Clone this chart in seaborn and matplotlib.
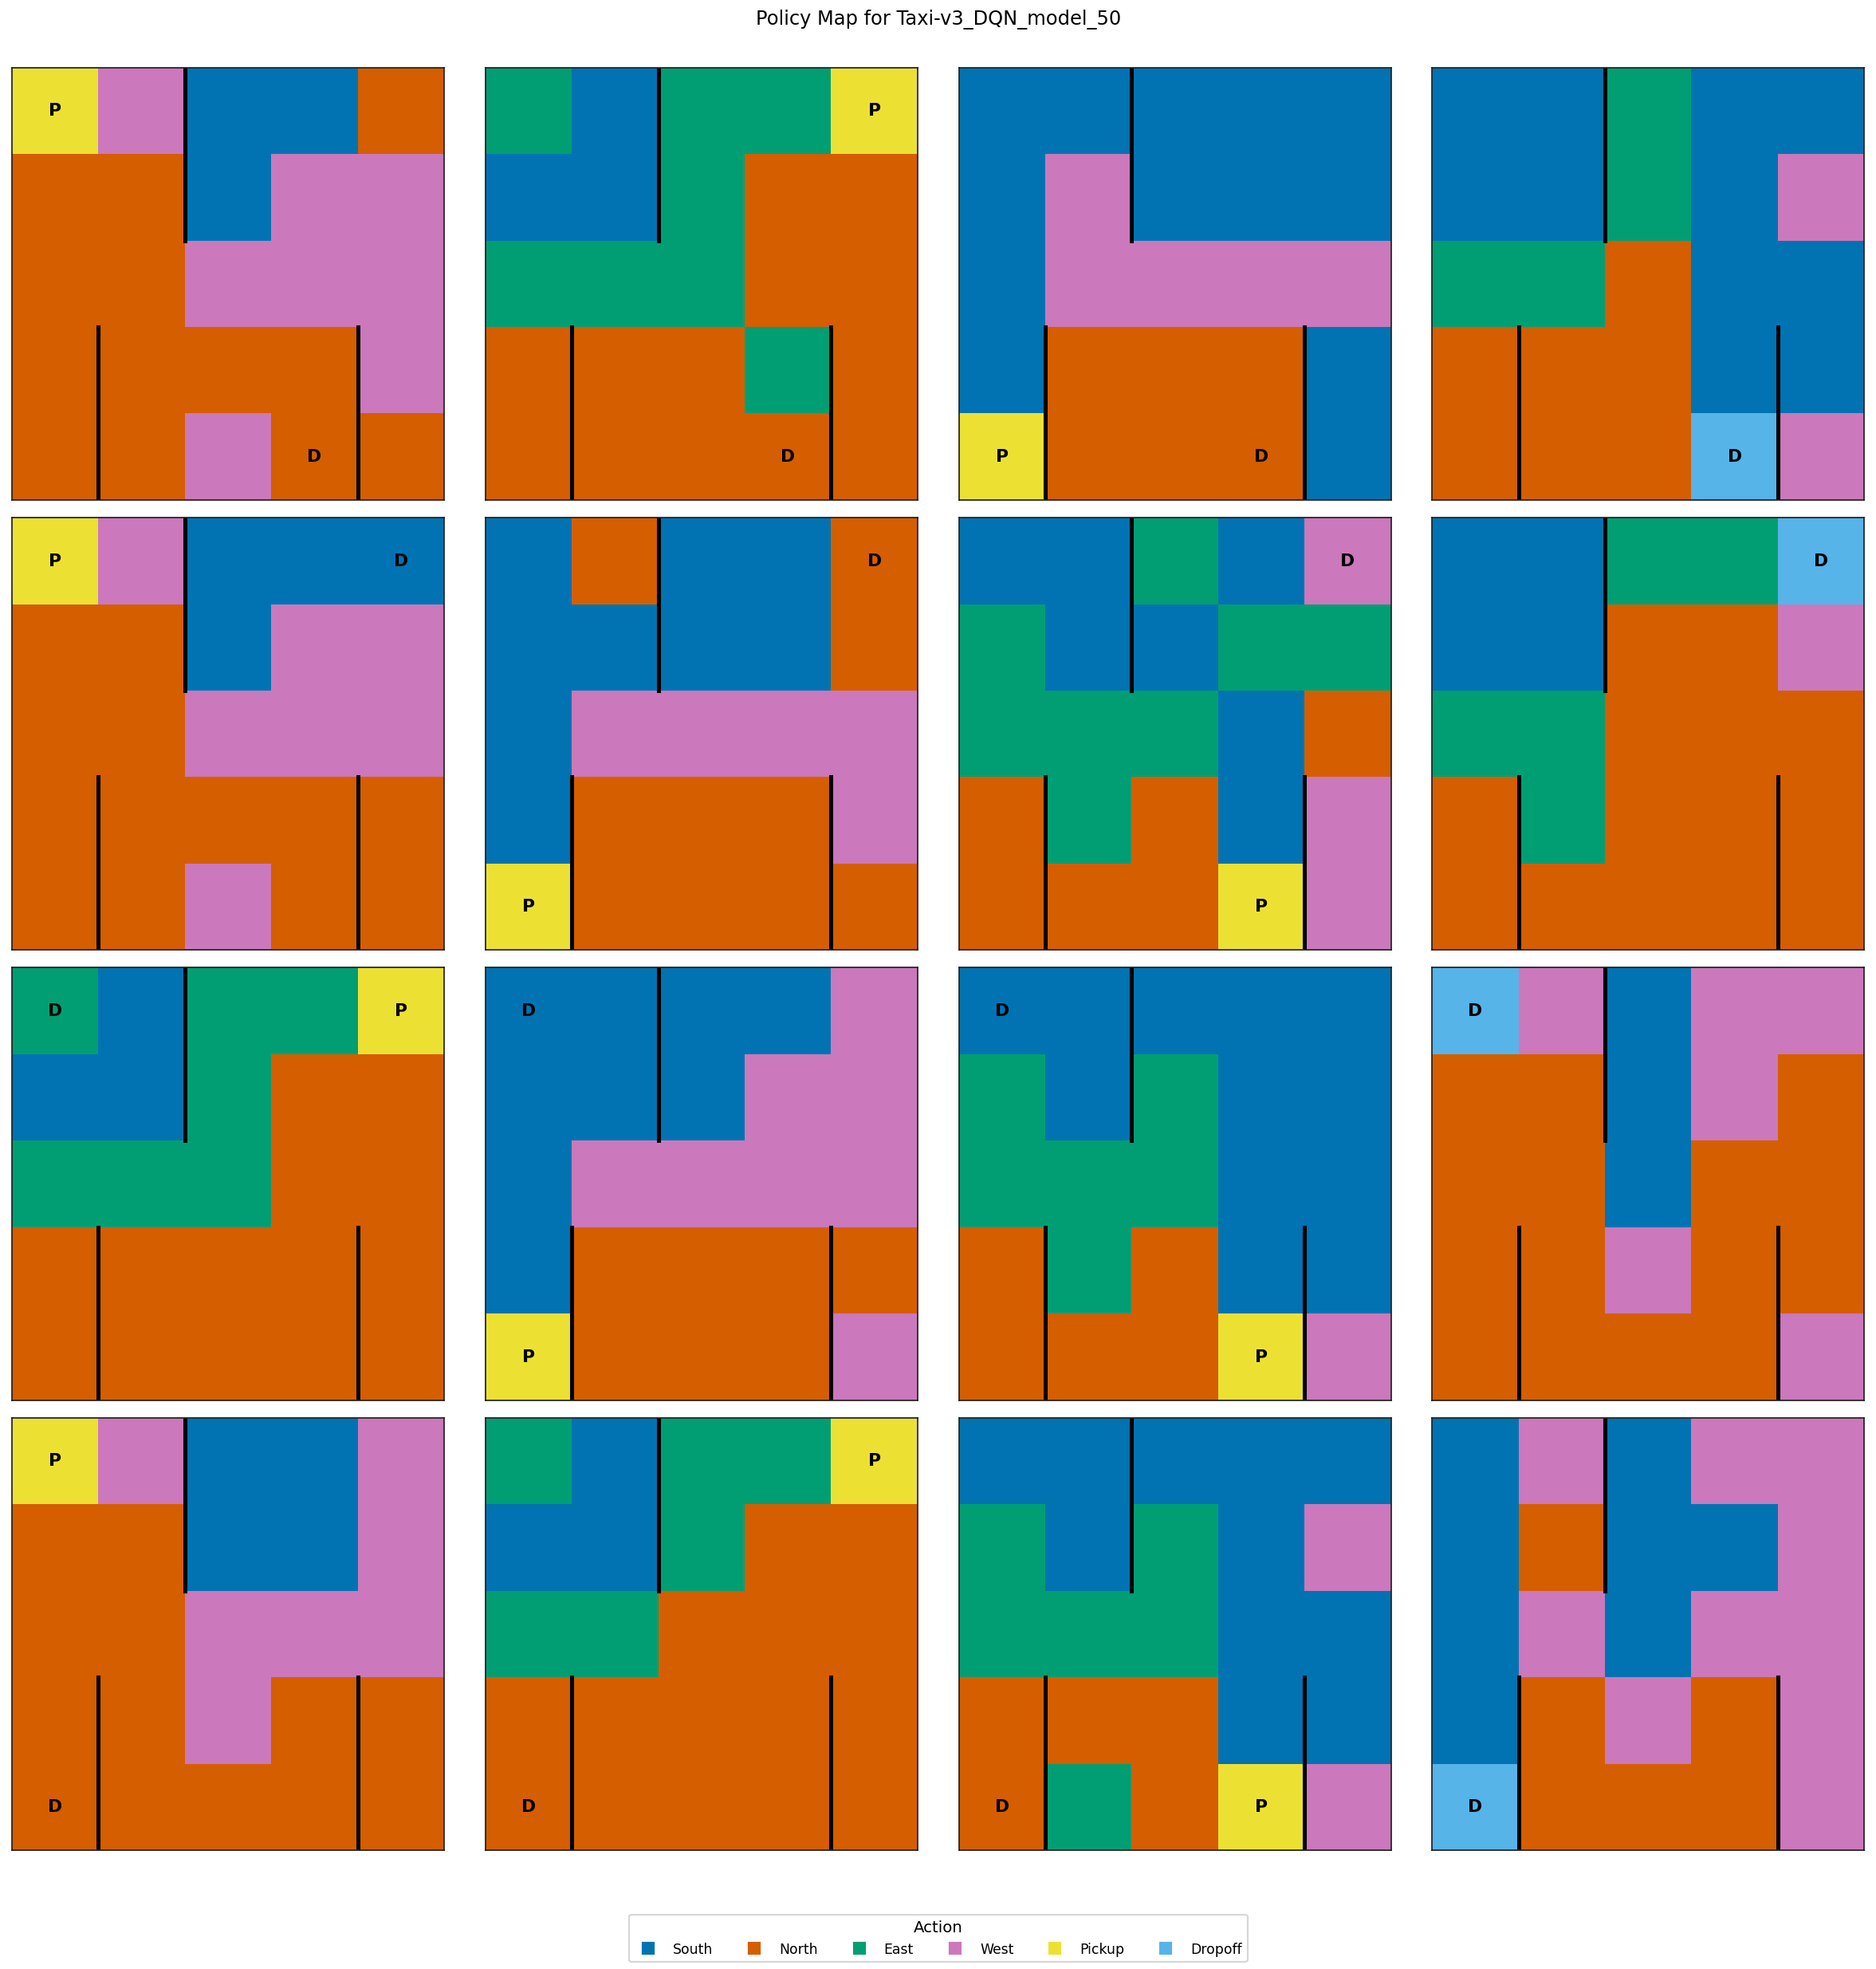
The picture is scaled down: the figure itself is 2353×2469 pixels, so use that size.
import numpy as np
import matplotlib
matplotlib.use("Agg")
import matplotlib.pyplot as plt
from matplotlib.colors import ListedColormap
from matplotlib.lines import Line2D
import seaborn as sns

# ---------------- data ----------------
actions = ["South", "North", "East", "West", "Pickup", "Dropoff"]
action_codes = {"S": 0, "N": 1, "E": 2, "W": 3, "P": 4, "D": 5}

# landmark cells (row, col): R, G, Y, B
landmarks = [(0, 0), (0, 4), (4, 0), (4, 3)]

# policies, row-major panels; each string = one grid row
policy_r_b = ["PWSSN", "NNSWW", "NNWWW", "NNNNW", "NNWNN"]
policy_g_b = ["ESEEP", "SSENN", "EEENN", "NNNEN", "NNNNN"]
policy_y_b = ["SSSSS", "SWSSS", "SWWWW", "SNNNS", "PNNNS"]
policy_t_b = ["SSESS", "SSESW", "EENSS", "NNNSS", "NNNDW"]
policy_r_g = ["PWSSS", "NNSWW", "NNWWW", "NNNNN", "NNWNN"]
policy_y_g = ["SNSSN", "SSSSN", "SWWWW", "SNNNW", "PNNNN"]
policy_b_g = ["SSESW", "ESSEE", "EEESN", "NENSW", "NNNPW"]
policy_t_g = ["SSEED", "SSNNW", "EENNN", "NENNN", "NNNNN"]
policy_g_r = ["ESEEP", "SSENN", "EEENN", "NNNNN", "NNNNN"]
policy_y_r = ["SSSSW", "SSSWW", "SWWWW", "SNNNN", "PNNNW"]
policy_b_r = ["SSSSS", "ESESS", "EEESS", "NENSS", "NNNPW"]
policy_t_r = ["DWSWW", "NNSWN", "NNSNN", "NNWNN", "NNNNW"]
policy_r_y = ["PWSSW", "NNSSW", "NNWWW", "NNWNN", "NNNNN"]
policy_g_y = ["ESEEP", "SSENN", "EENNN", "NNNNN", "NNNNN"]
policy_b_y = ["SSSSS", "ESESW", "EEESS", "NNNSS", "NENPW"]
policy_t_y = ["SWSWW", "SNSSW", "SWSWW", "SNWNW", "DNNNW"]

panel_policies = [policy_r_b, policy_g_b, policy_y_b, policy_t_b,
                  policy_r_g, policy_y_g, policy_b_g, policy_t_g,
                  policy_g_r, policy_y_r, policy_b_r, policy_t_r,
                  policy_r_y, policy_g_y, policy_b_y, policy_t_y]
# passenger location index (0-3 landmark, 4 = in taxi), destination index
passenger_locs = [0, 1, 2, 4, 0, 2, 3, 4, 1, 2, 3, 4, 0, 1, 3, 4]
destination_locs = [3, 3, 3, 3, 1, 1, 1, 1, 0, 0, 0, 0, 2, 2, 2, 2]

# walls: (x, y_start, y_end) in grid units
walls = [(2, 0, 2), (1, 3, 5), (4, 3, 5)]

title = "Policy Map for Taxi-v3_DQN_model_50"

# ---------------- style ----------------
pal = sns.color_palette("colorblind")
colors = [pal[0], pal[3], pal[2], pal[4], pal[8], pal[9]]
cmap = ListedColormap(colors)

W, H, DPI = 2353, 2469, 157.5
fig, axes = plt.subplots(4, 4, figsize=((W + 0.3) / DPI, (H + 0.3) / DPI), dpi=DPI)
fig.subplots_adjust(left=15 / W, right=2338 / W, top=1 - 85 / H, bottom=1 - 2320 / H,
                    wspace=0.0954, hspace=0.0411)

for k, ax in enumerate(axes.flat):
    grid = np.array([[action_codes[ch] for ch in row] for row in panel_policies[k]])
    sns.heatmap(grid, cmap=cmap, vmin=-0.5, vmax=5.5, cbar=False, ax=ax,
                xticklabels=False, yticklabels=False)
    for sp in ax.spines.values():
        sp.set_visible(True)
        sp.set_color("#222222")
        sp.set_linewidth(0.8)
    for (x, y0, y1) in walls:
        ax.plot([x, x], [y0, y1], color="black", lw=2.3, solid_capstyle="projecting")
    ax.set_xlim(0, 5)
    ax.set_ylim(5, 0)
    p = passenger_locs[k]
    if p < 4:
        r, c = landmarks[p]
        ax.text(c + 0.5, r + 0.5, "P", ha="center", va="center",
                fontsize=10, fontweight="bold", color="black")
    r, c = landmarks[destination_locs[k]]
    ax.text(c + 0.5, r + 0.5, "D", ha="center", va="center",
            fontsize=10, fontweight="bold", color="black")

fig.suptitle(title, fontsize=11, y=1 - 31 / H, va="baseline")

handles = [Line2D([0], [0], marker="s", linestyle="None", color=col, markersize=6)
           for col in colors]
fig.legend(handles, actions, loc="lower center", ncol=6, title="Action",
           fontsize=7.9, title_fontsize=9)

fig.savefig("out.png", dpi=DPI)
